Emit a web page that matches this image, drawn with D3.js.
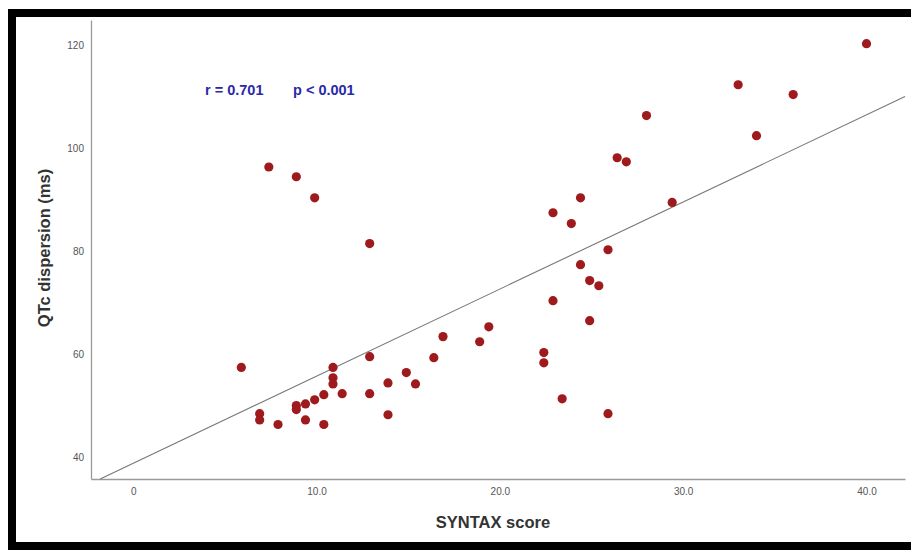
<!DOCTYPE html>
<html>
<head>
<meta charset="utf-8">
<script src="https://cdn.jsdelivr.net/npm/d3@7"></script>
<style>
  body { margin: 0; background: #fff; }
  svg { display: block; font-family: "Liberation Sans", Arial, sans-serif; }
</style>
</head>
<body>
<svg id="chart" width="911" height="550"></svg>
<script>
// SYNTAX score vs QTc dispersion
const syntaxScore = [40, 33, 36, 28, 34, 26.4, 26.9, 7.4, 8.9, 9.9, 24.4, 22.9, 29.4, 23.9, 12.9,
  25.9, 24.4, 24.9, 25.4, 22.9, 24.9, 19.4, 16.9, 18.9, 22.4, 22.4, 16.4, 12.9, 5.9, 10.9,
  10.9, 10.9, 14.9, 15.4, 13.9, 11.4, 12.9, 10.4, 9.9, 9.4, 8.9, 8.9, 6.9, 6.9, 9.4,
  7.9, 10.4, 13.9, 23.4, 25.9];
const qtcDispersion = [120.4, 112.4, 110.5, 106.4, 102.5, 98.2, 97.4, 96.4, 94.5, 90.4, 90.4, 87.5, 89.5, 85.4, 81.5,
  80.3, 77.4, 74.3, 73.3, 70.4, 66.5, 65.3, 63.4, 62.4, 60.3, 58.3, 59.3, 59.5, 57.4, 57.4,
  55.4, 54.2, 56.4, 54.2, 54.4, 52.3, 52.3, 52.1, 51.1, 50.3, 50.0, 49.2, 48.4, 47.2, 47.2,
  46.3, 46.3, 48.2, 51.3, 48.4];
const xTicks = [0, 10, 20, 30, 40];
const yTicks = [40, 60, 80, 100, 120];
// fit line: qtc = intercept + slope * syntax
const fitIntercept = 38.75;
const fitSlope = 1.695;
const rLabel = "r = 0.701";
const pLabel = "p < 0.001";

let svg = d3.select("#chart");

// black frame (left, top, bottom)
svg.append("rect").attr("x", 8).attr("y", 9).attr("width", 903).attr("height", 8).attr("fill", "#000");
svg.append("rect").attr("x", 8).attr("y", 9).attr("width", 8).attr("height", 541).attr("fill", "#000");
svg.append("rect").attr("x", 8).attr("y", 542).attr("width", 903).attr("height", 8).attr("fill", "#000");

let x = d3.scaleLinear().domain([-2.3, 42.1]).range([91, 905]);
let y = d3.scaleLinear().domain([35.7, 125]).range([479, 20]);

// axes
let xAxis = svg.append("g")
    .attr("transform", "translate(0,479)")
    .call(d3.axisBottom(x).tickValues(xTicks).tickSize(0).tickPadding(9)
      .tickFormat(d => d === 0 ? "0" : d3.format(".1f")(d)));
let yAxis = svg.append("g")
    .attr("transform", "translate(91,0)")
    .call(d3.axisLeft(y).tickValues(yTicks).tickSize(0).tickPadding(7));

[xAxis, yAxis].forEach(a => {
  a.select(".domain").attr("stroke", "#9a9a9a").attr("stroke-width", 1.3);
  a.selectAll("text").attr("fill", "#555").style("font-size", "10px")
    .style("font-family", "'Liberation Sans Narrow', 'Liberation Sans', Arial, sans-serif");
});

// regression line, clipped to plot area
let x0 = (35.7 - fitIntercept) / fitSlope;
let x1 = 42.1;
svg.append("line")
    .attr("x1", x(x0)).attr("y1", y(fitIntercept + fitSlope * x0))
    .attr("x2", x(x1)).attr("y2", y(fitIntercept + fitSlope * x1))
    .attr("stroke", "#777").attr("stroke-width", 1.1);

// points
svg.selectAll(".dot")
  .data(syntaxScore.map((s, i) => ({ s: s, q: qtcDispersion[i] })))
  .enter().append("circle")
  .attr("class", "dot")
  .attr("cx", d => x(d.s))
  .attr("cy", d => y(d.q))
  .attr("r", 4.6)
  .attr("fill", "#9e1a1d");

// annotation
svg.append("text").attr("x", 205).attr("y", 95).text(rLabel)
  .attr("fill", "#2a2aa6").style("font-size", "14.5px").style("font-weight", "bold");
svg.append("text").attr("x", 293).attr("y", 95).text(pLabel)
  .attr("fill", "#2a2aa6").style("font-size", "14.5px").style("font-weight", "bold");

// axis titles
svg.append("text").attr("x", 493).attr("y", 528).attr("text-anchor", "middle")
  .text("SYNTAX score").attr("fill", "#333").style("font-size", "16.5px").style("font-weight", "bold");
svg.append("text")
  .attr("transform", "translate(50,248) rotate(-90)")
  .attr("text-anchor", "middle")
  .text("QTc dispersion (ms)").attr("fill", "#333").style("font-size", "16.5px").style("font-weight", "bold");
</script>
</body>
</html>
